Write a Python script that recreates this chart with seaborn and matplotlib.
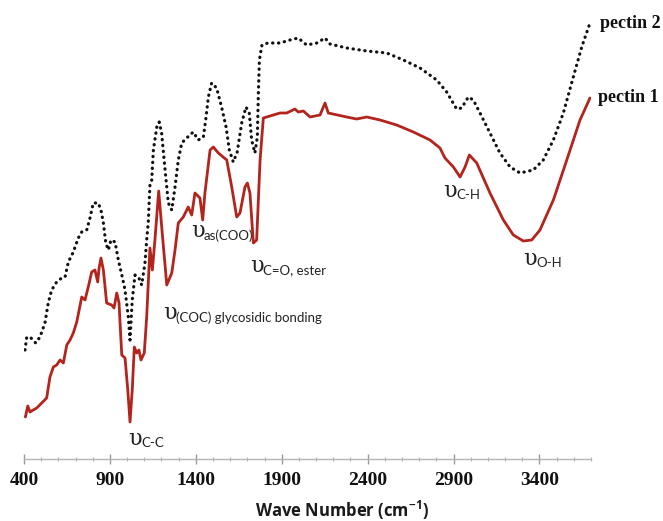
import pandas as pd
import seaborn as sns
import matplotlib.pyplot as plt

# wavenumbers (cm-1) and transmittance (a.u.)
p1_wn = [408, 422, 435, 454, 474, 503, 532, 551, 571, 590, 610, 629, 649, 668, 687, 707, 736, 755, 774, 794,
         813, 829, 837, 848, 862, 881, 910, 924, 940, 953, 969, 988, 1004, 1017, 1030, 1042, 1056, 1069, 1081,
         1100, 1114, 1133, 1147, 1162, 1184, 1203, 1231, 1260, 1279, 1298, 1327, 1356, 1376, 1395, 1424, 1440,
         1453, 1483, 1502, 1531, 1580, 1609, 1638, 1657, 1686, 1700, 1715, 1735, 1754, 1774, 1793, 1851, 1890,
         1929, 1977, 1996, 2026, 2065, 2123, 2152, 2171, 2278, 2336, 2395, 2472, 2569, 2666, 2763, 2821, 2850,
         2899, 2938, 2967, 2992, 3035, 3112, 3190, 3248, 3306, 3355, 3403, 3481, 3559, 3636, 3694]
p1_t = [42, 53, 47, 49, 51, 56, 61, 82, 92, 94, 99, 96, 114, 119, 126, 137, 162, 159, 172, 187,
        189, 177, 191, 201, 189, 156, 154, 151, 166, 156, 104, 101, 69, 37, 69, 112, 106, 109, 99,
        106, 142, 211, 189, 219, 268, 229, 174, 186, 209, 236, 242, 252, 244, 266, 261, 239,
        266, 309, 312, 306, 299, 272, 242, 246, 272, 276, 266, 216, 219, 299, 341, 344, 346,
        346, 350, 347, 348, 342, 344, 356, 346, 342, 340, 342, 339, 334, 327, 319, 311, 301,
        292, 282, 292, 304, 296, 266, 239, 224, 218, 219, 229, 259, 299, 339, 361]

p2_wn = [406, 416, 441, 468, 493, 522, 541, 561, 590, 619, 639, 658, 687, 716, 736, 765, 784, 803, 832, 848,
         862, 876, 891, 906, 930, 949, 972, 988, 1007, 1017, 1030, 1046, 1069, 1085, 1104, 1114, 1123, 1133,
         1143, 1153, 1173, 1187, 1201, 1221, 1240, 1260, 1279, 1298, 1318, 1347, 1385, 1414, 1444, 1459, 1473,
         1492, 1521, 1550, 1576, 1595, 1618, 1641, 1667, 1692, 1711, 1725, 1744, 1758, 1764, 1770, 1785, 1820,
         1890, 1948, 1996, 2045, 2104, 2152, 2181, 2278, 2395, 2511, 2608, 2705, 2802, 2860, 2918, 2947, 2986,
         3015, 3054, 3112, 3170, 3229, 3287, 3364, 3422, 3481, 3539, 3597, 3646, 3694]
p2_t = [109, 122, 121, 116, 122, 136, 156, 169, 177, 181, 182, 197, 207, 221, 227, 229, 241, 256, 256, 249,
        236, 216, 209, 219, 217, 199, 182, 169, 142, 119, 159, 184, 181, 174, 196, 219, 236, 274,
        278, 309, 332, 337, 326, 289, 256, 249, 272, 299, 316, 321, 327, 319, 322, 341, 362,
        376, 371, 352, 332, 309, 297, 307, 336, 352, 346, 319, 306, 322, 366, 399, 414, 416,
        416, 419, 421, 414, 416, 421, 415, 411, 408, 406, 399, 391, 379, 367, 350, 351, 362,
        359, 346, 326, 306, 292, 286, 289, 299, 319, 346, 382, 412, 436]

# band assignments: subscript, x position (cm-1), y position
band_subs = ['C-C', '(COC) glycosidic bonding', 'as(COO)', 'C=O, ester', 'C-H', 'O-H']
band_x = [1005, 1209, 1372, 1715, 2839, 3304]
band_y = [20, 146, 228, 193, 268, 200]

sns.set_theme(style='white')
plt.rcParams['font.family'] = ['Open Sans', 'DejaVu Sans']
plt.rcParams['mathtext.default'] = 'regular'

fig = plt.figure(figsize=(6.63, 5.21), dpi=100)
ax = fig.add_axes([24 / 663, 62 / 521, 567 / 663, 459 / 521])

df1 = pd.DataFrame({'wn': p1_wn, 't': p1_t})
df2 = pd.DataFrame({'wn': p2_wn, 't': p2_t})

sns.lineplot(data=df2, x='wn', y='t', ax=ax, color='#111111', lw=2.3, sort=False, estimator=None,
             linestyle=(0, (0.1, 1.75)), dash_capstyle='round')
sns.lineplot(data=df1, x='wn', y='t', ax=ax, color='#B3241D', lw=2.0, sort=False, estimator=None)

ax.set_xlim(400, 3700)
ax.set_ylim(0, 459)
ax.set_xticks(range(400, 3401, 500))
ax.set_xticks(range(400, 3701, 100), minor=True)
ax.set_yticks([])
ax.set_xlabel('')
ax.set_ylabel('')
for s in ['left', 'right', 'top']:
    ax.spines[s].set_visible(False)
ax.spines['bottom'].set_color('#b5b5b5')
ax.spines['bottom'].set_linewidth(1)
ax.tick_params(axis='x', which='major', direction='inout', length=7, width=1, color='#9a9a9a',
               pad=6, labelsize=14, labelcolor='#111111', bottom=True)
ax.tick_params(axis='x', which='minor', direction='inout', length=3.5, width=0.8, color='#b0b0b0', bottom=True)
for lab in ax.get_xticklabels():
    lab.set_fontfamily('Liberation Serif')
    lab.set_fontweight('bold')

fig.text(342 / 663, 1 - 510 / 521, 'Wave Number (cm$^{-1}$)', ha='center', va='center',
         fontsize=12, fontweight='bold', color='#1a1a1a')

# series labels at line ends
ax.annotate('pectin 2', xy=(p2_wn[-1], p2_t[-1]), xytext=(7, 0), textcoords='offset points',
            ha='left', va='center', fontsize=13, fontweight='bold', family='Liberation Serif',
            color='#111111', annotation_clip=False)
ax.annotate('pectin 1', xy=(p1_wn[-1], p1_t[-1]), xytext=(6, 0), textcoords='offset points',
            ha='left', va='center', fontsize=13, fontweight='bold', family='Liberation Serif',
            color='#111111', annotation_clip=False)

for sub, bx, by in zip(band_subs, band_x, band_y):
    ax.annotate('υ', xy=(bx, by), ha='left', va='center', fontsize=16, color='#222222',
                family=['DejaVu Serif', 'DejaVu Sans'])
    ax.annotate(sub, xy=(bx, by), xytext=(9.4, -3.2), textcoords='offset points',
                ha='left', va='center', fontsize=9.5, color='#222222', family=['Lato', 'DejaVu Sans'])

fig.savefig('out.png', dpi=100)
